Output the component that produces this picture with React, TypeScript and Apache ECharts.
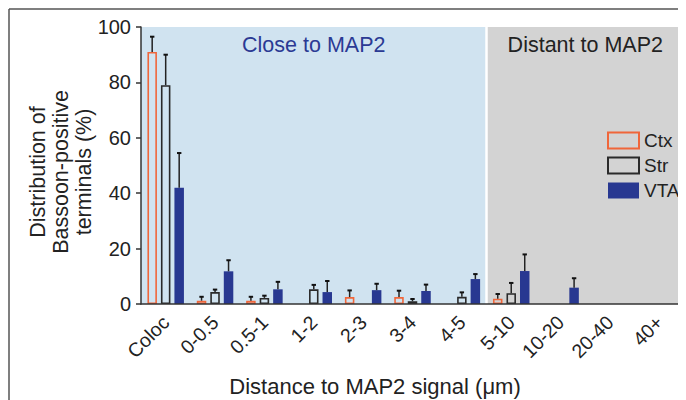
import React, { useEffect, useRef } from "react";
import * as echarts from "echarts";

const categories = ["Coloc", "0-0.5", "0.5-1", "1-2", "2-3", "3-4", "4-5", "5-10", "10-20", "20-40", "40+"];
const seriesNames = ["Ctx", "Str", "VTA"];
const ctxMean = [91, 1.2, 1.2, 0, 2.5, 2.5, 0, 1.9, 0, 0, 0];
const ctxErr = [5.5, 1.4, 1.4, 0, 2.4, 2.3, 0, 1.7, 0, 0, 0];
const strMean = [79, 4.3, 2.2, 5.3, 0, 1.0, 2.6, 3.9, 0, 0, 0];
const strErr = [11, 0.9, 0.8, 1.6, 0, 0.8, 1.6, 3.7, 0, 0, 0];
const vtaMean = [42, 11.8, 5.3, 4.3, 5.0, 4.7, 9.0, 11.9, 5.9, 0, 0];
const vtaErr = [12.5, 4, 2.7, 4, 2.3, 2.3, 1.8, 6, 3.4, 0, 0];
const yTicks = { min: 0, max: 100, interval: 20 };
const regionSplit = 7; // categories before "5-10" are close to MAP2
const regionLabels = ["Close to MAP2", "Distant to MAP2"];
const xTitle = "Distance to MAP2 signal (μm)";
const yTitle = "Distribution of\nBassoon-positive\nterminals (%)";

const FONT = "Liberation Sans, Arial, Helvetica, sans-serif";
const BAR_W = 9.5;
const GAP = 4;

export default function App() {
  const ref = useRef<HTMLDivElement>(null);
  useEffect(() => {
    const chart = echarts.init(ref.current!, null, { renderer: "svg" });
    const means = [ctxMean, strMean, vtaMean];
    const errs = [ctxErr, strErr, vtaErr];
    const styles = [
      { color: "transparent", borderColor: "#f0663a", borderWidth: 1.6 },
      { color: "transparent", borderColor: "#2a2a2a", borderWidth: 1.6 },
      { color: "#283891", borderColor: "#283891", borderWidth: 0 },
    ];
    const barSeries = seriesNames.map((name, i) => ({
      name,
      type: "bar",
      barWidth: BAR_W,
      barGap: (GAP / BAR_W) * 100 + "%",
      itemStyle: styles[i],
      data: means[i].map((v) => (v === 0 ? "-" : v)),
      z: 3,
    }));
    const errSeries = seriesNames.map((name, i) => ({
      type: "custom",
      z: 4,
      silent: true,
      data: means[i].map((v, k) => [k, v, errs[i][k]]),
      renderItem: (params: any, api: any) => {
        const k = api.value(0);
        const v = api.value(1);
        const e = api.value(2);
        if (!e) return null;
        const base = api.coord([k, v]);
        const top = api.coord([k, v + e]);
        const x = base[0] + (i - 1) * (BAR_W + GAP);
        return {
          type: "group",
          children: [
            { type: "line", shape: { x1: x, y1: base[1], x2: x, y2: top[1] }, style: { stroke: "#222", lineWidth: 1.5 } },
            { type: "line", shape: { x1: x - 2.2, y1: top[1], x2: x + 2.2, y2: top[1] }, style: { stroke: "#111", lineWidth: 2 } },
          ],
        };
      },
    }));
    chart.setOption({
      animation: false,
      grid: { left: 133, top: 19, right: 2, bottom: 96 },
      legend: {
        data: seriesNames,
        orient: "vertical",
        left: 594,
        top: 118,
        padding: 5,
        itemWidth: 31,
        itemHeight: 16,
        itemGap: 6,
        icon: "rect",
        textStyle: { fontSize: 19, color: "#222", fontFamily: FONT, lineHeight: 18 },
      },
      xAxis: [
        {
          type: "category",
          data: categories,
          axisLine: { lineStyle: { color: "#333", width: 1.5 } },
          axisTick: { alignWithLabel: true, length: 7, lineStyle: { color: "#333", width: 1.5 } },
          axisLabel: { rotate: 45, fontSize: 19.5, color: "#222", margin: 15, fontFamily: FONT, interval: 0 },
          z: 5,
        },
        { type: "value", min: 0, max: categories.length, show: false },
      ],
      yAxis: {
        type: "value",
        min: yTicks.min,
        max: yTicks.max,
        interval: yTicks.interval,
        axisLine: { show: true, lineStyle: { color: "#333", width: 1.5 } },
        axisTick: { show: true, length: 5, lineStyle: { color: "#333", width: 1.5 } },
        axisLabel: { fontSize: 20, color: "#222", margin: 10, fontFamily: FONT },
        splitLine: { show: false },
        z: 5,
      },
      series: [
        {
          type: "line",
          xAxisIndex: 1,
          data: [[0, 0]],
          symbol: "none",
          lineStyle: { opacity: 0 },
          silent: true,
          z: 0,
          markArea: {
            silent: true,
            data: [
              [
                {
                  xAxis: 0,
                  itemStyle: { color: "#d0e3f0" },
                  label: { show: true, position: "insideTop", distance: 7, formatter: regionLabels[0], color: "#2b3a94", fontSize: 21.5, fontFamily: FONT },
                },
                { xAxis: regionSplit },
              ],
              [
                {
                  xAxis: regionSplit,
                  itemStyle: { color: "#d3d3d3" },
                  label: { show: true, position: "insideTop", distance: 7, formatter: regionLabels[1], color: "#222", fontSize: 21.5, fontFamily: FONT },
                },
                { xAxis: categories.length },
              ],
            ],
          },
          markLine: {
            silent: true,
            symbol: "none",
            label: { show: false },
            lineStyle: { color: "#ffffff", width: 2.5, type: "solid" },
            data: [{ xAxis: regionSplit }],
          },
        },
        ...barSeries,
        ...errSeries,
      ],
      graphic: [
        { type: "line", shape: { x1: 1, y1: 1, x2: 678, y2: 1 }, style: { stroke: "#555", lineWidth: 1.5 } },
        { type: "line", shape: { x1: 1, y1: 1, x2: 1, y2: 392 }, style: { stroke: "#555", lineWidth: 1.5 } },
        {
          type: "text",
          x: 367,
          y: 378,
          style: { text: xTitle, fontSize: 22, fill: "#222", fontFamily: FONT, textAlign: "center", textVerticalAlign: "middle" },
        },
        {
          type: "text",
          x: 53,
          y: 164,
          rotation: Math.PI / 2,
          style: { text: yTitle, fontSize: 21.5, lineHeight: 23, fill: "#222", fontFamily: FONT, textAlign: "center", textVerticalAlign: "middle" },
        },
      ],
    });
    return () => chart.dispose();
  }, []);
  return <div ref={ref} style={{ width: 678, height: 392 }} />;
}
